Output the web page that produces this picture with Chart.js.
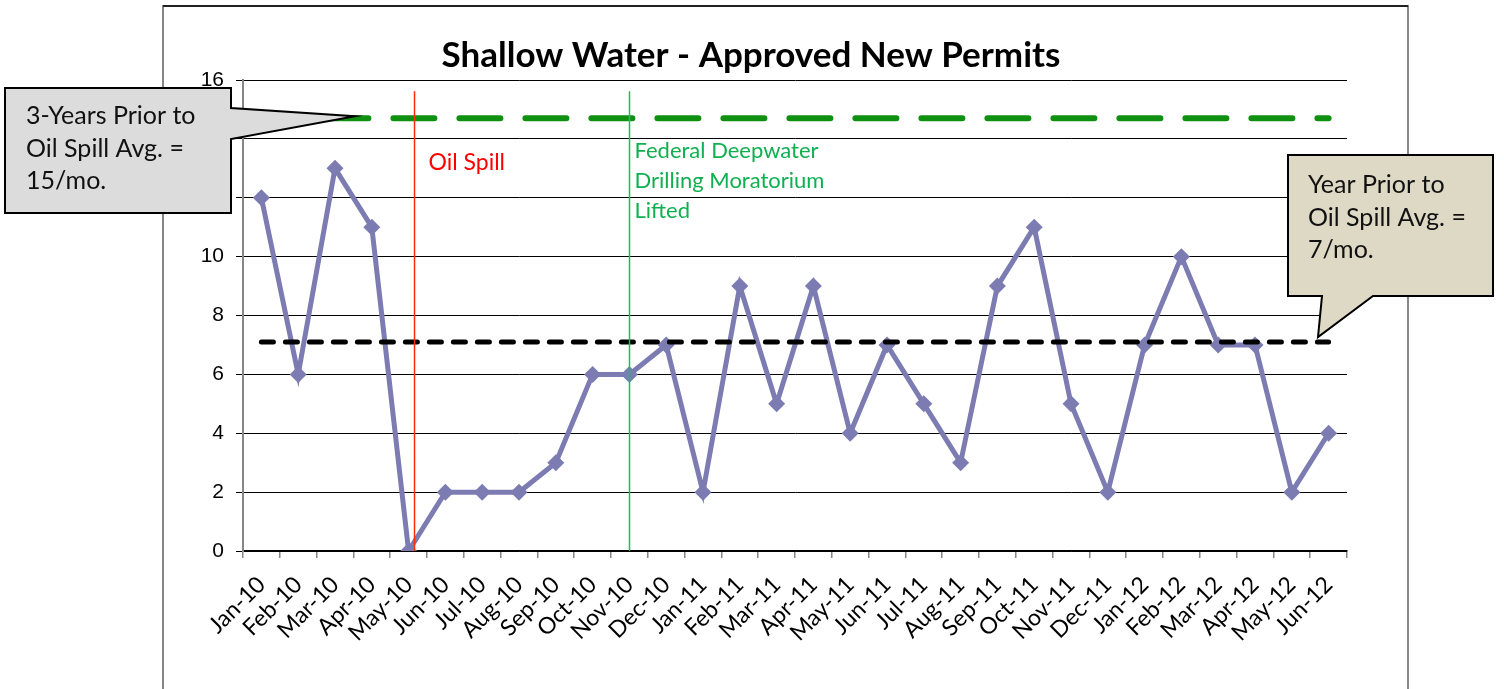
<!DOCTYPE html>
<html>
<head>
<meta charset="utf-8">
<script src="https://cdn.jsdelivr.net/npm/chart.js@4/dist/chart.umd.min.js"></script>
<style>
  html, body { margin: 0; padding: 0; background: #fff; }
  #wrap { width: 1504px; height: 689px; position: relative; }
</style>
</head>
<body>
<div id="wrap"><canvas id="permitsChart" width="1504" height="689"></canvas></div>
<script>
// months on the x axis
const months = [
  "Jan-10", "Feb-10", "Mar-10", "Apr-10", "May-10", "Jun-10", "Jul-10", "Aug-10", "Sep-10", "Oct-10",
  "Nov-10", "Dec-10", "Jan-11", "Feb-11", "Mar-11", "Apr-11", "May-11", "Jun-11", "Jul-11", "Aug-11",
  "Sep-11", "Oct-11", "Nov-11", "Dec-11", "Jan-12", "Feb-12", "Mar-12", "Apr-12", "May-12", "Jun-12"
];
// approved new permits per month
const permits = [12, 6, 13, 11, 0, 2, 2, 2, 3, 6, 6, 7, 2, 9, 5, 9, 4, 7, 5, 3, 9, 11, 5, 2, 7, 10, 7, 7, 2, 4];

// y axis
const yMin = 0;
const yMax = 16;
const yStep = 2;

// reference averages
const threeYearPriorAvg = 14.7;
const yearPriorAvg = 7.1;

// events (position in category index units)
const oilSpillAt = 4.15;
const moratoriumLiftedAt = 10;

const calibri = "Lato, 'Open Sans', sans-serif";

// frame, reference lines, event lines and callouts
const decorations = {
  id: "decorations",
  beforeDraw(chart) {
    const ctx = chart.ctx;
    ctx.save();
    ctx.fillStyle = "#fff";
    ctx.fillRect(0, 0, chart.width, chart.height);
    // outer chart frame
    ctx.lineWidth = 2;
    ctx.strokeStyle = "#868686";
    ctx.beginPath();
    ctx.moveTo(163, chart.height);
    ctx.lineTo(163, 6);
    ctx.lineTo(1408, 6);
    ctx.lineTo(1408, chart.height);
    ctx.stroke();
    ctx.strokeStyle = "#222";
    ctx.beginPath();
    ctx.moveTo(163, 6);
    ctx.lineTo(1408, 6);
    ctx.stroke();
    // title
    ctx.fillStyle = "#000";
    ctx.font = "bold 35px " + calibri;
    ctx.textAlign = "center";
    ctx.textBaseline = "middle";
    ctx.fillText("Shallow Water - Approved New Permits", 751, 56);
    ctx.restore();
  },
  afterDatasetsDraw(chart) {
    const ctx = chart.ctx;
    const x = chart.scales.x, y = chart.scales.y;
    const x0 = x.getPixelForValue(0), x1 = x.getPixelForValue(months.length - 1);
    const step = x.getPixelForValue(1) - x.getPixelForValue(0);
    const xAt = v => x0 + v * step;
    ctx.save();

    // average lines (on top of the series, as in the original)
    ctx.lineCap = "round";
    ctx.strokeStyle = "#109010";
    ctx.lineWidth = 6;
    ctx.setLineDash([41, 25]);
    ctx.beginPath();
    ctx.moveTo(x0, y.getPixelForValue(threeYearPriorAvg));
    ctx.lineTo(x1, y.getPixelForValue(threeYearPriorAvg));
    ctx.stroke();
    ctx.strokeStyle = "#000";
    ctx.lineWidth = 5;
    ctx.setLineDash([12, 12]);
    ctx.beginPath();
    ctx.moveTo(x0, y.getPixelForValue(yearPriorAvg));
    ctx.lineTo(x1, y.getPixelForValue(yearPriorAvg));
    ctx.stroke();
    ctx.setLineDash([]);
    ctx.lineCap = "butt";

    // event lines
    const top = y.getPixelForValue(15.62), bottom = y.getPixelForValue(yMin);
    ctx.lineWidth = 1.5;
    const spillX = Math.round(xAt(oilSpillAt)) + 0.5;
    ctx.strokeStyle = "#ff2a0a";
    ctx.beginPath();
    ctx.moveTo(spillX, top);
    ctx.lineTo(spillX, bottom);
    ctx.stroke();
    const liftX = Math.round(xAt(moratoriumLiftedAt)) + 0.5;
    ctx.strokeStyle = "#14c060";
    ctx.beginPath();
    ctx.moveTo(liftX, top);
    ctx.lineTo(liftX, bottom);
    ctx.stroke();

    ctx.textAlign = "left";
    ctx.textBaseline = "middle";
    ctx.font = "23px " + calibri;
    ctx.fillStyle = "#ff0000";
    ctx.fillText("Oil Spill", spillX + 14, y.getPixelForValue(13.2));
    ctx.font = "22px " + calibri;
    ctx.fillStyle = "#10b050";
    ["Federal Deepwater", "Drilling Moratorium", "Lifted"].forEach((t, i) => {
      ctx.fillText(t, liftX + 5, 151 + i * 30);
    });

    // callouts
    ctx.lineWidth = 2;
    ctx.strokeStyle = "#000";
    ctx.lineJoin = "miter";
    const tip1y = y.getPixelForValue(threeYearPriorAvg) - 2;
    ctx.fillStyle = "#dcdcdc";
    ctx.beginPath();
    ctx.moveTo(5, 88);
    ctx.lineTo(231, 88);
    ctx.lineTo(231, 108);
    ctx.lineTo(355, tip1y);
    ctx.lineTo(231, 139);
    ctx.lineTo(231, 213);
    ctx.lineTo(5, 213);
    ctx.closePath();
    ctx.fill();
    ctx.stroke();
    const tip2y = y.getPixelForValue(yearPriorAvg) - 5;
    ctx.fillStyle = "#ddd9c4";
    ctx.beginPath();
    ctx.moveTo(1288, 155);
    ctx.lineTo(1493, 155);
    ctx.lineTo(1493, 296);
    ctx.lineTo(1373, 296);
    ctx.lineTo(1318, tip2y);
    ctx.lineTo(1322, 296);
    ctx.lineTo(1288, 296);
    ctx.closePath();
    ctx.fill();
    ctx.stroke();

    ctx.fillStyle = "#111";
    ctx.font = "25px " + calibri;
    ["3-Years Prior to", "Oil Spill Avg. =", "15/mo."].forEach((t, i) => {
      ctx.fillText(t, 26, 116 + i * 32.5);
    });
    ["Year Prior to", "Oil Spill Avg. =", "7/mo."].forEach((t, i) => {
      ctx.fillText(t, 1308, 185 + i * 32.5);
    });
    ctx.restore();
  }
};

new Chart(document.getElementById("permitsChart"), {
  type: "line",
  data: {
    labels: months,
    datasets: [{
      label: "Approved New Permits",
      data: permits,
      borderColor: "#7c7cb2",
      backgroundColor: "#7c7cb2",
      borderWidth: 5,
      tension: 0,
      pointStyle: "rectRot",
      pointRadius: 8.5,
      pointHoverRadius: 8.5,
      pointBorderWidth: 0
    }]
  },
  options: {
    responsive: false,
    animation: false,
    events: [],
    layout: { padding: { left: 0, right: 157, top: 80, bottom: 0 } },
    plugins: {
      legend: { display: false },
      title: { display: false },
      tooltip: { enabled: false }
    },
    scales: {
      x: {
        offset: true,
        grid: {
          offset: true,
          drawOnChartArea: false,
          drawTicks: true,
          tickLength: 7,
          color: "#868686",
          lineWidth: 1.5
        },
        border: { color: "#000", width: 1.5 },
        ticks: {
          autoSkip: false,
          minRotation: 45,
          maxRotation: 45,
          padding: 13,
          color: "#000",
          font: { family: calibri, size: 23 }
        },
        afterFit(scale) { scale.height = 138; }
      },
      y: {
        min: yMin,
        max: yMax,
        grid: {
          color: "#000",
          lineWidth: 1,
          tickLength: 7
        },
        border: { color: "#868686", width: 2 },
        ticks: {
          stepSize: yStep,
          padding: 12,
          color: "#000",
          font: { family: "'Liberation Sans', Arial, sans-serif", size: 21 }
        },
        afterFit(scale) { scale.width = 243; }
      }
    }
  },
  plugins: [decorations]
});
</script>
</body>
</html>
